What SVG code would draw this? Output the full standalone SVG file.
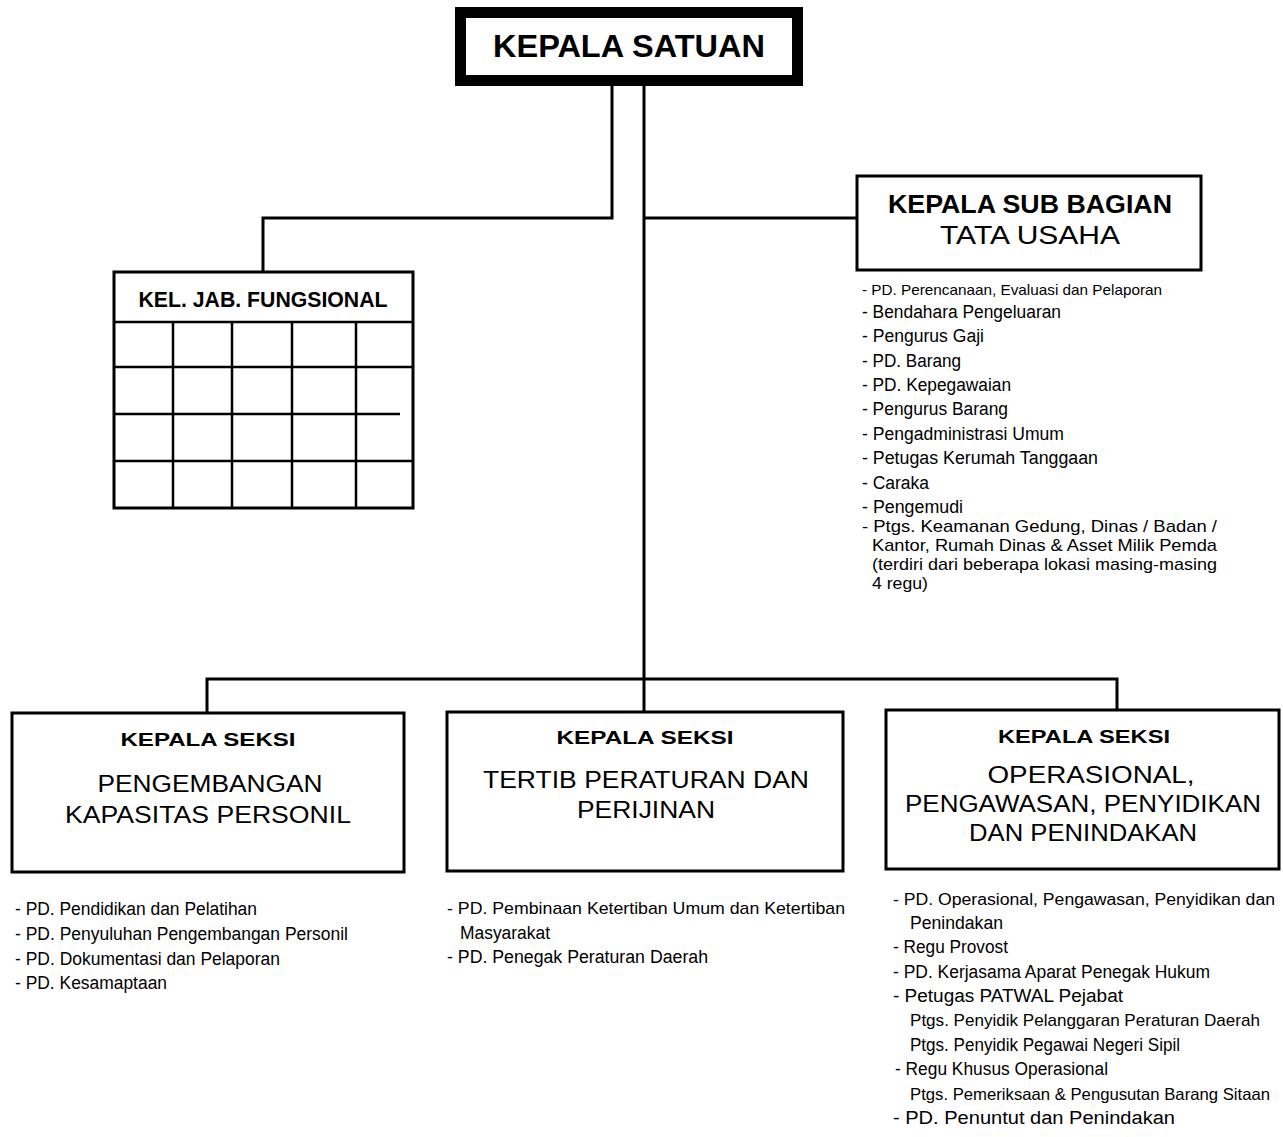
<svg xmlns="http://www.w3.org/2000/svg" width="1283" height="1137" viewBox="0 0 1283 1137">
<style>
.box{fill:#fff;stroke:#000;stroke-width:3}
.thick{fill:#fff;stroke:#000;stroke-width:11}
.grid{stroke:#000;stroke-width:2.5;fill:none}
.conn{stroke:#000;stroke-width:3;fill:none}
text{font-family:"Liberation Sans",Arial,sans-serif;fill:#000}
.b{font-weight:bold}
.c{text-anchor:middle}
.li{font-size:18px}
</style>
<rect width="1283" height="1137" fill="#fff"/>
<g id="connectors">
<polyline class="conn" points="612,86 612,218 263,218 263,272"/>
<line class="conn" x1="644" y1="86" x2="644" y2="712"/>
<line class="conn" x1="644" y1="218" x2="857" y2="218"/>
<polyline class="conn" points="207,713 207,679 1117,679 1117,710"/>
</g>
<g id="kepala-satuan">
<rect class="thick" x="460.5" y="12.5" width="337" height="68"/>
<text class="b c" x="629" y="57" font-size="32" textLength="272" lengthAdjust="spacingAndGlyphs">KEPALA SATUAN</text>
</g>
<g id="kepala-sub-bagian">
<rect class="box" x="857" y="176" width="344" height="94"/>
<text class="b c" x="1030" y="213" font-size="25" textLength="284" lengthAdjust="spacingAndGlyphs">KEPALA SUB BAGIAN</text>
<text class="c" x="1030" y="244" font-size="26" textLength="180" lengthAdjust="spacingAndGlyphs">TATA USAHA</text>
<g class="li">
<text x="862" y="295" font-size="15" textLength="300" lengthAdjust="spacingAndGlyphs">- PD. Perencanaan, Evaluasi dan Pelaporan</text>
<text x="862" y="318" textLength="199" lengthAdjust="spacingAndGlyphs">- Bendahara Pengeluaran</text>
<text x="862" y="342" textLength="122" lengthAdjust="spacingAndGlyphs">- Pengurus Gaji</text>
<text x="862" y="367" textLength="99" lengthAdjust="spacingAndGlyphs">- PD. Barang</text>
<text x="862" y="391" textLength="149" lengthAdjust="spacingAndGlyphs">- PD. Kepegawaian</text>
<text x="862" y="415" textLength="146" lengthAdjust="spacingAndGlyphs">- Pengurus Barang</text>
<text x="862" y="440" textLength="202" lengthAdjust="spacingAndGlyphs">- Pengadministrasi Umum</text>
<text x="862" y="464" textLength="236" lengthAdjust="spacingAndGlyphs">- Petugas Kerumah Tanggaan</text>
<text x="862" y="489" textLength="67" lengthAdjust="spacingAndGlyphs">- Caraka</text>
<text x="862" y="513" textLength="101" lengthAdjust="spacingAndGlyphs">- Pengemudi</text>
<text x="862" y="532" font-size="17" textLength="355" lengthAdjust="spacingAndGlyphs">- Ptgs. Keamanan Gedung, Dinas / Badan /</text>
<text x="872" y="551" font-size="17" textLength="345" lengthAdjust="spacingAndGlyphs">Kantor, Rumah Dinas &amp; Asset Milik Pemda</text>
<text x="872" y="570" font-size="17" textLength="345" lengthAdjust="spacingAndGlyphs">(terdiri dari beberapa lokasi masing-masing</text>
<text x="872" y="589" font-size="17" textLength="56" lengthAdjust="spacingAndGlyphs">4 regu)</text>
</g>
</g>
<g id="kel-jab-fungsional">
<rect class="box" x="114" y="272" width="299" height="236"/>
<line class="grid" x1="114" y1="322" x2="413" y2="322"/>
<line class="grid" x1="173" y1="322" x2="173" y2="508"/>
<line class="grid" x1="232" y1="322" x2="232" y2="508"/>
<line class="grid" x1="292" y1="322" x2="292" y2="508"/>
<line class="grid" x1="356" y1="322" x2="356" y2="508"/>
<line class="grid" x1="114" y1="367" x2="413" y2="367"/>
<line class="grid" x1="114" y1="414" x2="400" y2="414"/>
<line class="grid" x1="114" y1="461" x2="413" y2="461"/>
<text class="b c" x="263" y="307" font-size="21.5" textLength="249" lengthAdjust="spacingAndGlyphs">KEL. JAB. FUNGSIONAL</text>
</g>
<g id="seksi-pengembangan">
<rect class="box" x="12" y="713" width="392" height="159"/>
<text class="b c" x="208" y="746" font-size="19" textLength="175" lengthAdjust="spacingAndGlyphs">KEPALA SEKSI</text>
<text class="c" x="210" y="792" font-size="23" textLength="225" lengthAdjust="spacingAndGlyphs">PENGEMBANGAN</text>
<text class="c" x="208" y="823" font-size="23" textLength="286" lengthAdjust="spacingAndGlyphs">KAPASITAS PERSONIL</text>
<g class="li">
<text x="15" y="915" textLength="242" lengthAdjust="spacingAndGlyphs">- PD. Pendidikan dan Pelatihan</text>
<text x="15" y="940" textLength="333" lengthAdjust="spacingAndGlyphs">- PD. Penyuluhan Pengembangan Personil</text>
<text x="15" y="965" textLength="265" lengthAdjust="spacingAndGlyphs">- PD. Dokumentasi dan Pelaporan</text>
<text x="15" y="989" textLength="152" lengthAdjust="spacingAndGlyphs">- PD. Kesamaptaan</text>
</g>
</g>
<g id="seksi-tertib">
<rect class="box" x="447" y="712" width="396" height="159"/>
<text class="b c" x="645" y="744" font-size="19" textLength="177" lengthAdjust="spacingAndGlyphs">KEPALA SEKSI</text>
<text class="c" x="646" y="788" font-size="23" textLength="326" lengthAdjust="spacingAndGlyphs">TERTIB PERATURAN DAN</text>
<text class="c" x="646" y="818" font-size="23" textLength="138" lengthAdjust="spacingAndGlyphs">PERIJINAN</text>
<g class="li">
<text x="447" y="914" font-size="17" textLength="398" lengthAdjust="spacingAndGlyphs">- PD. Pembinaan Ketertiban Umum dan Ketertiban</text>
<text x="460" y="939" textLength="90" lengthAdjust="spacingAndGlyphs">Masyarakat</text>
<text x="447" y="963" textLength="261" lengthAdjust="spacingAndGlyphs">- PD. Penegak Peraturan Daerah</text>
</g>
</g>
<g id="seksi-operasional">
<rect class="box" x="886" y="710" width="393" height="159"/>
<text class="b c" x="1084" y="743" font-size="19" textLength="172" lengthAdjust="spacingAndGlyphs">KEPALA SEKSI</text>
<text class="c" x="1091" y="783" font-size="23" textLength="207" lengthAdjust="spacingAndGlyphs">OPERASIONAL,</text>
<text class="c" x="1083" y="812" font-size="23" textLength="356" lengthAdjust="spacingAndGlyphs">PENGAWASAN, PENYIDIKAN</text>
<text class="c" x="1083" y="841" font-size="23" textLength="228" lengthAdjust="spacingAndGlyphs">DAN PENINDAKAN</text>
<g class="li">
<text x="893" y="905" font-size="16" textLength="382" lengthAdjust="spacingAndGlyphs">- PD. Operasional, Pengawasan, Penyidikan dan</text>
<text x="910" y="929" textLength="93" lengthAdjust="spacingAndGlyphs">Penindakan</text>
<text x="893" y="953" textLength="115" lengthAdjust="spacingAndGlyphs">- Regu Provost</text>
<text x="893" y="978" textLength="317" lengthAdjust="spacingAndGlyphs">- PD. Kerjasama Aparat Penegak Hukum</text>
<text x="893" y="1002" textLength="230" lengthAdjust="spacingAndGlyphs">- Petugas PATWAL Pejabat</text>
<text x="910" y="1026" font-size="17" textLength="350" lengthAdjust="spacingAndGlyphs">Ptgs. Penyidik Pelanggaran Peraturan Daerah</text>
<text x="910" y="1051" textLength="270" lengthAdjust="spacingAndGlyphs">Ptgs. Penyidik Pegawai Negeri Sipil</text>
<text x="895" y="1075" textLength="213" lengthAdjust="spacingAndGlyphs">- Regu Khusus Operasional</text>
<text x="910" y="1100" font-size="16.5" textLength="360" lengthAdjust="spacingAndGlyphs">Ptgs. Pemeriksaan &amp; Pengusutan Barang Sitaan</text>
<text x="893" y="1124" textLength="282" lengthAdjust="spacingAndGlyphs">- PD. Penuntut dan Penindakan</text>
</g>
</g>
</svg>
